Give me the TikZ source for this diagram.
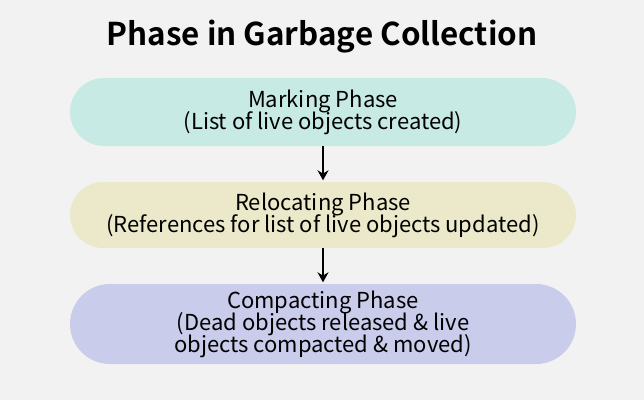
\documentclass[tikz,border=0pt]{standalone}
\usepackage{fontspec}
\usetikzlibrary{arrows.meta}
\setmainfont{Noto Sans CJK SC}[BoldFont={Noto Sans CJK SC Bold}]
\definecolor{bgray}{RGB}{242,242,242}
\definecolor{markc}{RGB}{199,235,228}
\definecolor{reloc}{RGB}{235,233,201}
\definecolor{compc}{RGB}{201,204,234}
\tikzset{
  phase/.style={minimum width=506pt, align=center, inner sep=0pt, font=\fontsize{22}{22.5}\selectfont},
  flow/.style={-{Stealth[length=10pt,width=11pt]}, line width=1.6pt, shorten >=1.5pt}
}
\begin{document}
\begin{tikzpicture}[x=1pt, y=-1pt]
  \fill[bgray] (0,0) rectangle (644,400);
  \useasboundingbox (0,0) rectangle (644,400);
  \node (title) at (322,37) {\fontsize{31.4}{36}\selectfont\bfseries Phase in Garbage Collection};
  \node[phase, fill=markc, minimum height=68pt, rounded corners=34pt] (mark) at (323,112)
    {Marking Phase\\[-2.5pt](List of live objects created)};
  \node[phase, fill=reloc, minimum height=66pt, rounded corners=33pt] (reloc) at (323,215)
    {Relocating Phase\\[-2.5pt](References for list of live objects updated)};
  \node[phase, fill=compc, minimum height=80pt, rounded corners=40pt] (comp) at (323,324)
    {Compacting Phase\\[-2.5pt](Dead objects released \& live\\[-2.5pt]objects compacted \& moved)};
  \draw[flow] (mark) -- (reloc);
  \draw[flow] (reloc) -- (comp);
\end{tikzpicture}
\end{document}
